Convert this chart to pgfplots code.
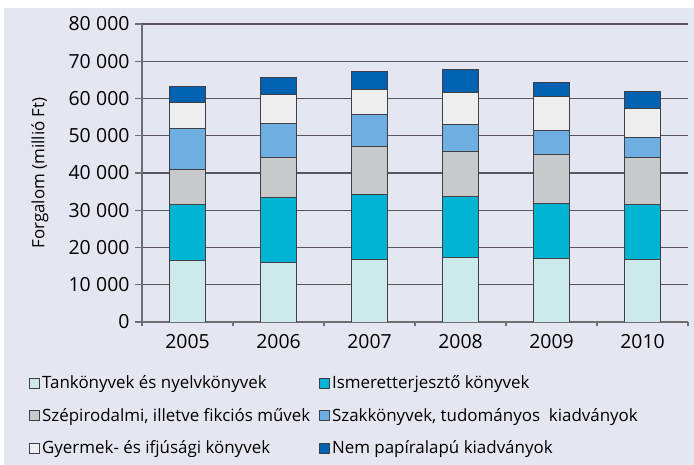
\documentclass[border=0pt]{standalone}
\usepackage{fontspec}
\setmainfont{Open Sans}
\usepackage{pgfplots}
\usepackage{pgfplotstable}
\pgfplotsset{compat=1.18}
\definecolor{bg}{HTML}{E4E7F1}
\definecolor{tank}{HTML}{CCEAEC}
\definecolor{ism}{HTML}{00B4D4}
\definecolor{szep}{HTML}{C8C9CB}
\definecolor{szak}{HTML}{6FAEE0}
\definecolor{gyer}{HTML}{EEEEEE}
\definecolor{nem}{HTML}{0062B0}
\definecolor{axgray}{HTML}{6E6E72}
\definecolor{gridgray}{HTML}{58585C}
\definecolor{edge}{HTML}{404044}
\pgfplotstableread{
x tank ism szep szak gyer nem
0 16400 15100 9500 11000 6900 4300
1 16000 17500 10700 9200 7700 4600
2 16800 17500 12900 8600 6500 5000
3 17400 16400 12000 7300 8600 6000
4 17100 14800 13000 6400 9300 3700
5 16800 14800 12600 5400 7600 4700
}\data
\pgfplotsset{mylegend/.style={legend image code/.code={\draw[##1,line width=0.7pt,draw=edge] (0bp,-5bp) rectangle (10bp,5bp);}}}
\begin{document}
\begin{tikzpicture}
\path[use as bounding box] (0,0) rectangle (694bp,465bp);
\fill[bg] (4bp,0) rectangle (694bp,457bp);
\begin{axis}[
  at={(142bp,143bp)}, anchor=south west,
  scale only axis, width=546bp, height=298bp,
  xmin=-0.5, xmax=5.5, ymin=0, ymax=80000,
  ybar stacked, bar width=0.4,
  axis x line*=bottom, axis y line*=left,
  axis line style={draw=axgray, line width=1.1pt},
  ytick={0,10000,...,80000},
  ymajorgrids,
  major grid style={draw=gridgray, line width=1.1pt},
  scaled y ticks=false,
  /pgf/number format/assume math mode=true,
  /pgf/number format/1000 sep={\hspace{0.28em}},
  yticklabel style={font=\fontsize{19.5}{22}\selectfont, xshift=-2bp},
  tick align=outside, major tick length=7bp,
  ytick style={draw=axgray, line width=1.1pt},
  xtick={0,...,5}, xticklabels={2005,2006,2007,2008,2009,2010},
  xtick style={draw=none},
  xticklabel style={font=\fontsize{19.5}{22}\selectfont, yshift=-2bp},
  extra x ticks={-0.5,0.5,...,5.5}, extra x tick labels={},
  extra x tick style={xtick style={draw=axgray, line width=1.1pt}, major tick length=4bp},
  ylabel={Forgalom (millió Ft)},
  ylabel style={font=\fontsize{17}{20}\selectfont, at={(axis description cs:-0.187,0.5)}, anchor=center},
  legend columns=2,
  legend cell align=left,
  legend style={at={(axis description cs:-0.212,-0.167)}, anchor=north west, draw=none, fill=none,
    font=\fontsize{17}{20}\selectfont, /tikz/every even column/.append style={column sep=7bp}, row sep=14bp},
]
\addplot[fill=tank, draw=edge, line width=0.9pt, mylegend] table[x=x,y=tank]{\data};
\addlegendentry{Tankönyvek és nyelvkönyvek}
\addplot[fill=ism, draw=edge, line width=0.9pt, mylegend] table[x=x,y=ism]{\data};
\addlegendentry{Ismeretterjesztő könyvek}
\addplot[fill=szep, draw=edge, line width=0.9pt, mylegend] table[x=x,y=szep]{\data};
\addlegendentry{Szépirodalmi, illetve fikciós művek}
\addplot[fill=szak, draw=edge, line width=0.9pt, mylegend] table[x=x,y=szak]{\data};
\addlegendentry{Szakkönyvek, tudományos\ \ kiadványok}
\addplot[fill=gyer, draw=edge, line width=0.9pt, mylegend] table[x=x,y=gyer]{\data};
\addlegendentry{Gyermek- és ifjúsági könyvek}
\addplot[fill=nem, draw=edge, line width=0.9pt, mylegend] table[x=x,y=nem]{\data};
\addlegendentry{Nem papíralapú kiadványok}
\end{axis}
\end{tikzpicture}
\end{document}
